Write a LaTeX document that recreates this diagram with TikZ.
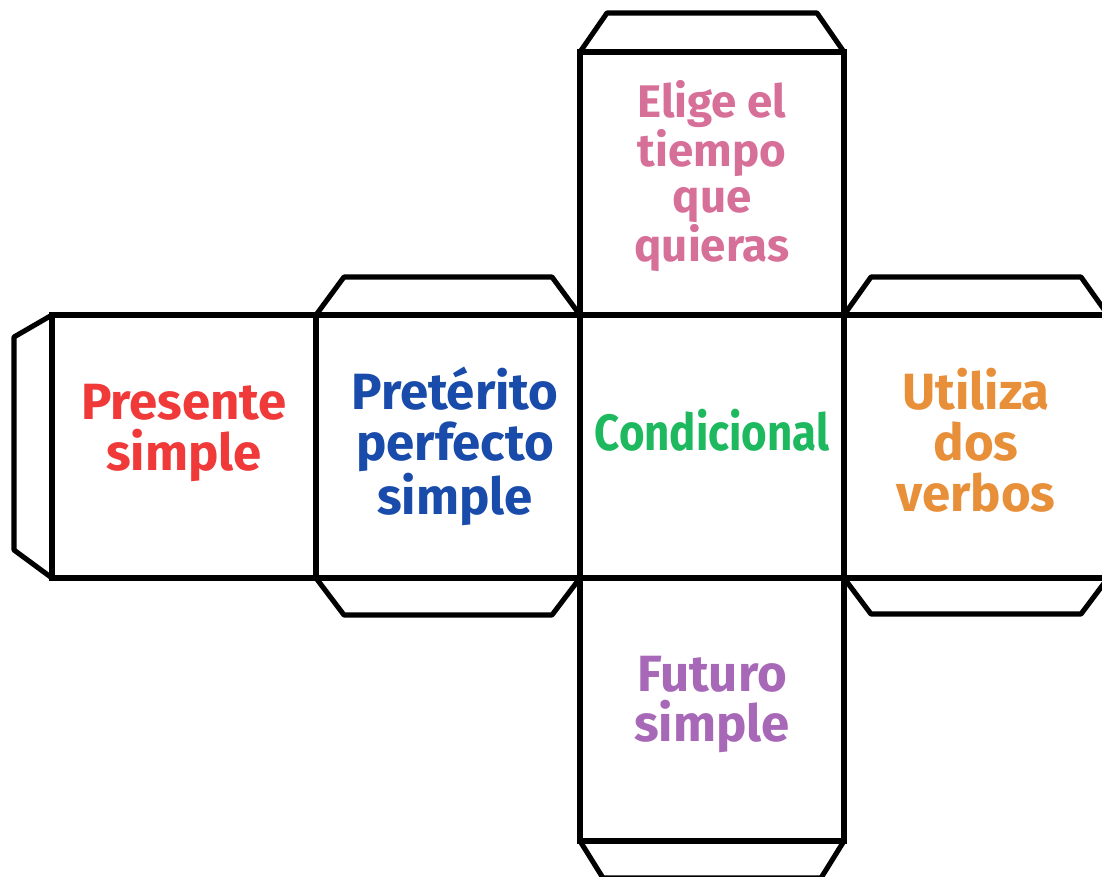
\documentclass[tikz,border=0pt]{standalone}
\usepackage{fontspec}
\setmainfont{Fira Sans}
\newfontfamily\narrowsans{Fira Sans}[FakeStretch=0.86]
\usetikzlibrary{positioning}
\definecolor{eligepink}{RGB}{215,112,153}
\definecolor{presred}{RGB}{240,58,58}
\definecolor{pretblue}{RGB}{25,75,170}
\definecolor{condgreen}{RGB}{30,185,95}
\definecolor{utilorange}{RGB}{232,143,58}
\definecolor{futpurple}{RGB}{168,104,184}
\tikzset{%
face/.style={draw,line width=2.9pt,minimum width=5.28cm,minimum height=5.26cm,inner sep=0,outer sep=0},
flap/.style={draw,line width=2.9pt,line join=round},
facetext/.style={text=#1,font=\fontsize{29}{29}\selectfont\bfseries,align=center,inner sep=0}
}
\begin{document}
\begin{tikzpicture}

    \clip (-14.24,-8.61) rectangle (7.80,8.93);
    \fill[white] (-14.24,-8.61) rectangle (7.80,8.93);

    % faces of the cube
    \node[face] (cond)   at (0,0) {};
    \node[face] (top)    [above=0pt of cond] {};
    \node[face] (bottom) [below=0pt of cond] {};
    \node[face] (pret)   [left=0pt of cond] {};
    \node[face] (pres)   [left=0pt of pret] {};
    \node[face] (util)   [right=0pt of cond] {};

    % glue flaps
    \draw[flap] (top.north west) -- ++(0.54,0.78) -- ([shift={(-0.54,0.78)}]top.north east) -- (top.north east);
    \draw[flap] (bottom.south west) -- ++(0.46,-0.74) -- ([shift={(-0.46,-0.74)}]bottom.south east) -- (bottom.south east);
    \draw[flap] (pret.north west) -- ++(0.56,0.76) -- ([shift={(-0.56,0.76)}]pret.north east) -- (pret.north east);
    \draw[flap] (pret.south west) -- ++(0.56,-0.74) -- ([shift={(-0.56,-0.74)}]pret.south east) -- (pret.south east);
    \draw[flap] (util.north west) -- ++(0.54,0.76) -- ([shift={(-0.54,0.76)}]util.north east) -- (util.north east);
    \draw[flap] (util.south west) -- ++(0.54,-0.72) -- ([shift={(-0.54,-0.72)}]util.south east) -- (util.south east);
    \draw[flap] (pres.north west) -- ++(-0.76,-0.44) -- ([shift={(-0.76,0.56)}]pres.south west) -- (pres.south west);

    % texts
    \node[facetext=eligepink,font=\fontsize{26}{26}\selectfont\bfseries] (lbltop) at ([yshift=0.15cm]top) {Elige el\\tiempo\\que\\quieras};
    \node[facetext=presred]    (lblpres)   at ([yshift=0.27cm]pres)   {Presente\\simple};
    \node[facetext=pretblue]   (lblpret)   at ([xshift=0.14cm]pret)   {Pretérito\\perfecto\\simple};
    \node[facetext=condgreen]  (lblcond)   at ([yshift=0.32cm]cond)   {\narrowsans Condicional};
    \node[facetext=utilorange] (lblutil)   at ([yshift=0.13cm]util)   {Utiliza\\dos\\verbos};
    \node[facetext=futpurple]  (lblbottom) at ([yshift=0.1cm]bottom)  {Futuro\\simple};

\end{tikzpicture}
\end{document}
